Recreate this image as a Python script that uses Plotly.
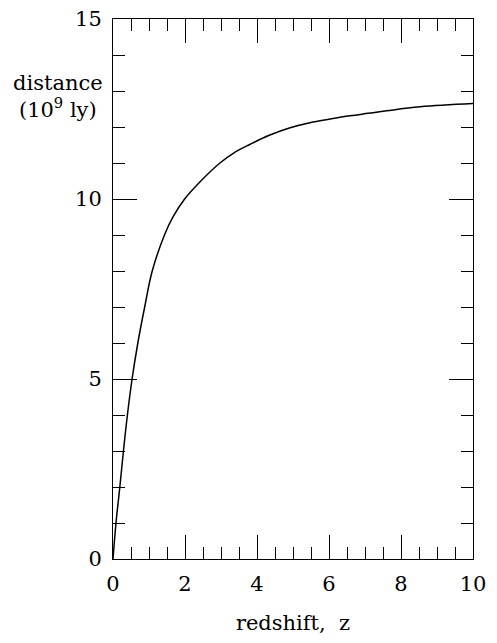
import plotly.graph_objects as go

# data
redshift = [0, 0.083, 0.19, 0.29, 0.40, 0.53, 0.69, 0.88, 1.09, 1.43, 1.67, 1.99,
            2.42, 2.97, 3.34, 3.81, 4.34, 4.92, 5.47, 6.03, 6.58, 7.09, 7.6, 8.53, 10]
distance = [0, 1, 2, 3, 4, 5, 6, 7, 8, 9, 9.51, 10,
            10.48, 11, 11.27, 11.52, 11.77, 11.98, 12.12, 12.22, 12.31, 12.38, 12.45, 12.56, 12.65]

x_ticks = [0, 2, 4, 6, 8, 10]
y_ticks = [0, 5, 10, 15]

FONT = "DejaVu Serif"

fig = go.Figure()
fig.add_trace(go.Scatter(x=redshift, y=distance, mode="lines",
                         line=dict(color="black", width=1.5, shape="spline", smoothing=1.1),
                         hoverinfo="skip", showlegend=False))

axis_common = dict(showline=True, linecolor="black", linewidth=1, mirror="allticks",
                   ticks="inside", tickcolor="black", tickwidth=1, ticklen=24,
                   showgrid=False, zeroline=False, automargin=False,
                   ticklabeloverflow="allow",
                   tickfont=dict(family=FONT, size=21, color="black"))

fig.update_xaxes(range=[0, 10], tickvals=x_ticks, ticktext=[str(v) for v in x_ticks],
                 minor=dict(dtick=0.5, ticks="inside", ticklen=12, tickcolor="black", tickwidth=1, showgrid=False),
                 title=dict(text="redshift,  z", font=dict(family=FONT, size=21, color="black"), standoff=20),
                 ticklabelstandoff=6,
                 **axis_common)
fig.update_yaxes(range=[0, 15], tickvals=y_ticks, ticktext=[str(v) for v in y_ticks],
                 minor=dict(dtick=1, ticks="inside", ticklen=12, tickcolor="black", tickwidth=1, showgrid=False),
                 ticklabelstandoff=6,
                 **axis_common)

fig.add_annotation(text="distance<br>(10<sup>9</sup> ly)", xref="paper", yref="paper",
                   x=-0.153, y=0.856, xanchor="center", yanchor="middle", showarrow=False,
                   align="center", font=dict(family=FONT, size=21, color="black"))

# page has an 8px body margin, so the figure is sized/offset to compensate
fig.update_layout(width=489, height=635, margin=dict(l=105, r=24, t=11, b=84, autoexpand=False),
                  plot_bgcolor="white", paper_bgcolor="white")

fig.write_html("out.html")
